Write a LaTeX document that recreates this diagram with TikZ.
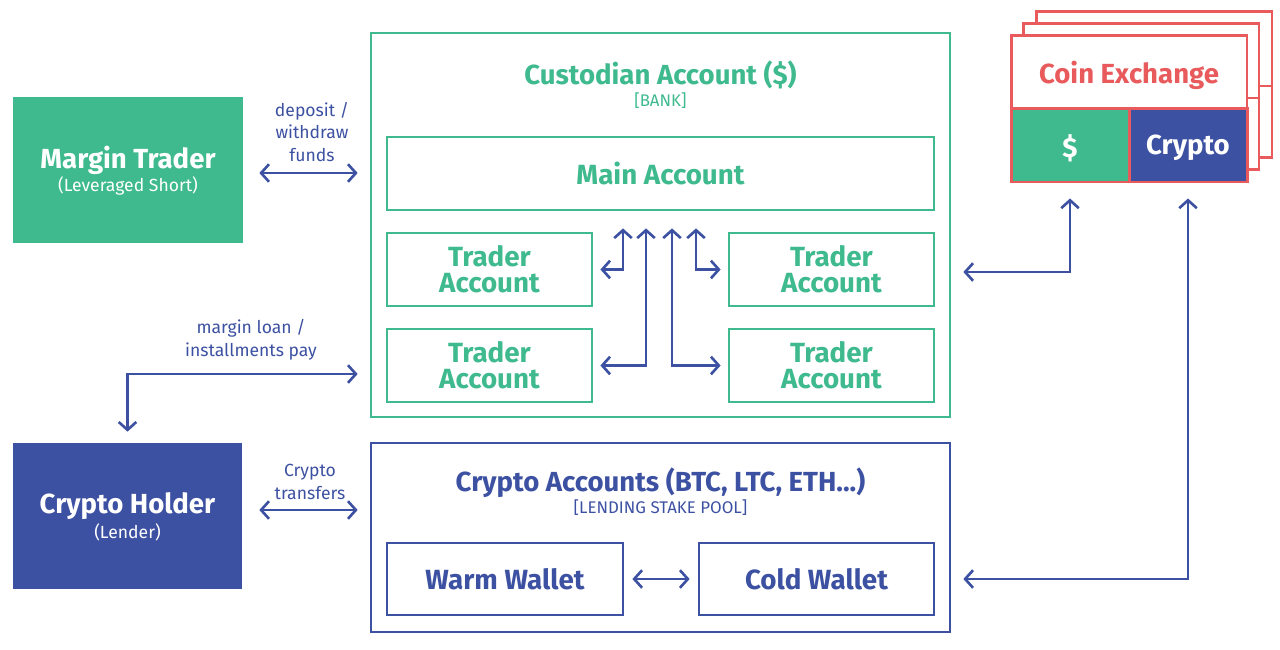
\documentclass[tikz,border=0pt]{standalone}
\usepackage{fontspec}
\setmainfont{Fira Sans}
\usetikzlibrary{arrows.meta,calc}
\definecolor{grn}{HTML}{3FBA8F}
\definecolor{blu}{HTML}{3D51A2}
\definecolor{exred}{HTML}{E85A5C}
\begin{document}
\begin{tikzpicture}[x=0.02cm,y=-0.02cm,
  box/.style={draw, line width=1.6pt, inner sep=0pt, align=center},
  gbox/.style={box, draw=grn, text=grn, font=\bfseries\fontsize{15.8}{14.8}\selectfont},
  bbox/.style={box, draw=blu, text=blu, font=\bfseries\fontsize{15.8}{14.8}\selectfont},
  xbox/.style={box, draw=exred, fill=white, line width=1.7pt},
  solid/.style={inner sep=0pt, align=center, text=white},
  conn/.style={draw=blu, line width=1.5pt, {Straight Barb[length=4.5pt,width=10pt]}-{Straight Barb[length=4.5pt,width=10pt]}},
  lbl/.style={text=blu, font=\fontsize{10}{13}\selectfont, align=center, inner sep=0pt},
  big/.style={font=\bfseries\fontsize{15.7}{17}\selectfont},
  small/.style={font=\fontsize{10}{12}\selectfont},
  tag/.style={font=\fontsize{9.6}{11}\selectfont, inner sep=0pt}]
\useasboundingbox (0,0) rectangle (1280,649);

% left actors
\node[solid, fill=grn, minimum width=4.6cm, minimum height=2.92cm] (margin) at (128,170) {};
\node[solid, big] (mtT) at (128,160) {Margin Trader};
\node[solid, small] (mtS) at (128,186) {(Leveraged Short)};
\node[solid, fill=blu, minimum width=4.58cm, minimum height=2.92cm] (holder) at (127.5,516) {};
\node[solid, big] (chT) at (127.5,506) {Crypto Holder};
\node[solid, small] (chS) at (127.5,532) {(Lender)};

% custodian
\node[box, draw=grn, minimum width=11.58cm, minimum height=7.68cm] (cust) at (660.5,225) {};
\node[text=grn, big, inner sep=0pt] (custT) at (660.5,75) {Custodian Account (\$)};
\node[text=grn, tag] (custS) at (660.5,101) {[BANK]};
\node[gbox, minimum width=10.94cm, minimum height=1.46cm] (main) at (660.5,173.5) {Main Account};
\node[gbox, minimum width=4.1cm, minimum height=1.46cm] (tl) at (489.5,269.5) {Trader\\Account};
\node[gbox, minimum width=4.1cm, minimum height=1.46cm] (tr) at (831.5,269.5) {Trader\\Account};
\node[gbox, minimum width=4.1cm, minimum height=1.46cm] (bl) at (489.5,365.5) {Trader\\Account};
\node[gbox, minimum width=4.1cm, minimum height=1.46cm] (br) at (831.5,365.5) {Trader\\Account};

% crypto accounts
\node[box, draw=blu, minimum width=11.58cm, minimum height=3.78cm] (cacc) at (660.5,537.5) {};
\node[text=blu, big, inner sep=0pt] (caccT) at (660.5,483) {Crypto Accounts (BTC, LTC, ETH...)};
\node[text=blu, tag] (caccS) at (660.5,508) {[LENDING STAKE POOL]};
\node[bbox, minimum width=4.72cm, minimum height=1.44cm] (warm) at (505,579) {Warm Wallet};
\node[bbox, minimum width=4.7cm, minimum height=1.44cm] (cold) at (816.5,579) {Cold Wallet};

% coin exchange stack
\node[xbox, minimum width=4.72cm, minimum height=2.94cm] (back2) at (1154,84.5) {};
\draw[exred, line width=1.7pt] (back2.west |- 0,86) -- (back2.east |- 0,86);
\node[xbox, minimum width=4.72cm, minimum height=2.94cm] (back1) at (1141,96.5) {};
\draw[exred, line width=1.7pt] (back1.west |- 0,98) -- (back1.east |- 0,98);
\node[xbox, minimum width=4.72cm, minimum height=1.46cm] (ex) at (1129,71.5) {};
\node[text=exred, big, inner sep=0pt] (exT) at (1129,75) {Coin Exchange};
\node[xbox, fill=grn, minimum width=2.36cm, minimum height=1.48cm] (dollar) at (1070,145) {};
\node[xbox, fill=blu, minimum width=2.36cm, minimum height=1.48cm] (crypto) at (1188,145) {};
\node[solid, big] (dollarT) at (1070,148) {\$};
\node[solid, big] (cryptoT) at (1188,148) {Crypto};

% labels
\node[lbl] (lDep) at (312,132) {deposit /\\withdraw\\funds};
\node[lbl] (lLoan) at (251,339.5) {margin loan /\\installments pay};
\node[lbl] (lTr) at (310,482) {Crypto\\transfers};

% connectors
\draw[conn, shorten <=0.32cm, shorten >=0.24cm] ([yshift=-0.06cm]margin.east) -- ([yshift=-0.06cm]margin.east -| cust.west);
\draw[conn, shorten <=0.34cm, shorten >=0.24cm] ([yshift=0.12cm]holder.east) -- ([yshift=0.12cm]holder.east -| cust.west);
\draw[conn, shorten <=0.22cm, shorten >=0.24cm] (holder.north) |- (cust.west |- 0,374);

\draw[conn, shorten <=0.14cm, shorten >=0.34cm] (tl.east) -| ([xshift=-0.75cm]main.south);
\draw[conn, shorten <=0.14cm, shorten >=0.34cm] (bl.east) -| ([xshift=-0.29cm]main.south);
\draw[conn, shorten <=0.14cm, shorten >=0.34cm] (br.west) -| ([xshift=0.23cm]main.south);
\draw[conn, shorten <=0.14cm, shorten >=0.34cm] (tr.west) -| ([xshift=0.71cm]main.south);

\draw[conn, shorten <=0.16cm, shorten >=0.16cm] (warm) -- (cold);

\draw[conn, shorten <=0.3cm, shorten >=0.24cm] (dollar.south) |- (cust.east |- 0,272);
\draw[conn, shorten <=0.3cm, shorten >=0.24cm] (crypto.south) |- (cacc.east |- cold.east);
\end{tikzpicture}
\end{document}
